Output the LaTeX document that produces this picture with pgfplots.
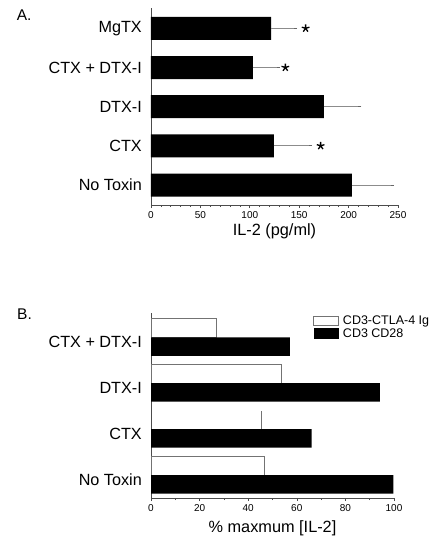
\documentclass[border=0pt]{standalone}
\usepackage{fontspec}
\setmainfont{Liberation Sans}
\usepackage{pgfplots}
\pgfplotsset{compat=1.18}
\begin{document}
\begin{tikzpicture}
\path[use as bounding box] (0pt,0pt) rectangle (435pt,-544pt);
\pgfplotsset{
  common/.style={
    scale only axis,
    axis x line=bottom, axis y line=left,
    axis line style={-, black!70, line width=0.7pt},
    tick align=outside, major tick length=3pt, minor tick length=2pt,
    tick style={black!70, line width=0.6pt},
    ytick style={draw=none},
    yticklabel style={font=\fontsize{16.2}{17}\selectfont, anchor=east, inner sep=0pt, xshift=-6pt},
    xticklabel style={font=\fontsize{10}{11}\selectfont},
    /pgf/number format/assume math mode=true,
    xlabel style={at={(axis description cs:0.5,0)}, anchor=base, font=\fontsize{16.3}{18}\selectfont},
    clip=false,
  },
  whitebox/.style={legend image code/.code={\draw[fill=white, draw=black!55, line width=0.7pt] (0pt,-4.6pt) rectangle (25pt,4.6pt);}},
  blackbox/.style={legend image code/.code={\fill[black] (0pt,-5.5pt) rectangle (25pt,5.5pt);}},
}
% Panel A
\begin{axis}[common,
  at={(151pt,-205pt)}, anchor=south west,
  width=247pt, height=197pt,
  xmin=0, xmax=250, ymin=-0.51, ymax=4.52,
  xtick={0,50,...,250}, minor x tick num=4,
  ytick={0,1,2,3,4},
  yticklabels={No Toxin, CTX, DTX-I, CTX + DTX-I, MgTX},
  xlabel={IL-2 (pg/ml)},
  xlabel style={yshift=-30.7pt},
]
\addplot[xbar, bar width=23pt, fill=black, draw=none,
  error bars/.cd, x dir=plus, x explicit,
  error bar style={black!45, line width=0.9pt},
  error mark options={black!60, mark size=1.5pt, line width=0.9pt}]
  table[x=x, y=y, x error=e] {
x y e
203.3 0 41.3
124.3 1 37.3
175.1 2 36.3
103.0 3 25.8
121.6 4 24.7
};
\addplot[only marks, mark=star, mark size=4pt, mark options={line width=1.3pt, black}]
  coordinates {(156.5,4) (136,3) (171.7,1)};
\end{axis}
% Panel B
\begin{axis}[common,
  at={(151pt,-498pt)}, anchor=south west,
  width=243pt, height=185pt,
  xmin=0, xmax=100, ymin=-0.5, ymax=3.53,
  xtick={0,20,...,100}, minor x tick num=1,
  ytick={-0.1,0.9,1.9,2.9},
  yticklabels={No Toxin, CTX, DTX-I, CTX + DTX-I},
  xlabel={\% maxmum [IL-2]},
  xlabel style={yshift=-34.4pt},
  legend style={at={(axis description cs:0.667,0.985)}, anchor=north west,
    draw=none, fill=none, inner sep=0pt, row sep=2pt,
    font=\fontsize{12.5}{13}\selectfont,
    nodes={inner sep=0pt},
    /tikz/every odd column/.append style={column sep=4pt}},
  legend cell align=left,
]
\addplot[xbar, bar width=18.5pt, bar shift=9.25pt, fill=white, draw=black!55, line width=0.7pt, whitebox]
  coordinates {(46.5,0) (53.8,2) (26.7,3)};
\addlegendentry{CD3-CTLA-4 Ig}
\addplot[xbar, bar width=18.5pt, bar shift=-9.25pt, fill=black, draw=none, blackbox]
  coordinates {(99.7,0) (66.1,1) (94.2,2) (57.2,3)};
\addlegendentry{CD3 CD28}
% CTX white bar: only its right edge is visible in the original
\addplot[black!55, line width=0.7pt, forget plot]
  coordinates {(45.5,1.0) (45.5,1.403)};
\end{axis}
\node[anchor=base west, font=\fontsize{15.5}{16}\selectfont, inner sep=0pt] at (16.7pt,-20.7pt) {A.};
\node[anchor=base west, font=\fontsize{15.5}{16}\selectfont, inner sep=0pt] at (17pt,-319.3pt) {B.};
\end{tikzpicture}
\end{document}
